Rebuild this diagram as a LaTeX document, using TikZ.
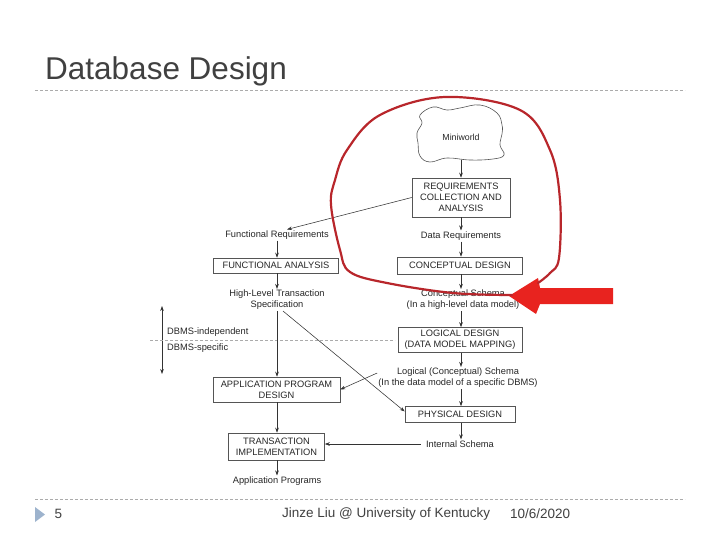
\documentclass[tikz,border=0pt]{standalone}
\usepackage{fontspec}
\setmainfont{Liberation Sans}
\usetikzlibrary{arrows.meta}
\definecolor{ttl}{HTML}{404040}
\definecolor{lin}{HTML}{333333}
\definecolor{boxc}{HTML}{555555}
\definecolor{loopred}{HTML}{B8262B}
\definecolor{arrred}{HTML}{E8231F}
\definecolor{tri}{HTML}{9DB3CD}
\definecolor{dashc}{HTML}{ABABAB}
\begin{document}
\begin{tikzpicture}[x=1pt,y=-1pt,
  txt/.style={font=\fontsize{9.3}{11}\selectfont, text=black!85, inner sep=1pt, align=center},
  dbox/.style={txt, draw=boxc, line width=0.6pt, inner sep=2pt},
  arr/.style={draw=lin, line width=0.55pt, -{Stealth[length=5pt,width=3.6pt]}},
  rule/.style={draw=dashc, line width=0.6pt, dash pattern=on 3pt off 2pt},
  foot/.style={font=\fontsize{13.5}{16}\selectfont, text=ttl, inner sep=0pt, anchor=west}
]
\useasboundingbox (0,0) rectangle (720,540);

% header and footer
\node[anchor=base west, inner sep=0pt, font=\fontsize{31.5}{36}\selectfont, text=ttl] (title) at (45,80) {Database Design};
\coordinate (h1) at (35,90); \coordinate (h2) at (685,90);
\draw[rule] (h1) -- (h2);
\coordinate (f1) at (35,499.5); \coordinate (f2) at (685,499.5);
\draw[rule] (f1) -- (f2);
\fill[tri] (35,507) -- (45,514.5) -- (35,522) -- cycle;
\node[foot] (pg) at (54.5,514) {5};
\node[foot] (who) at (282,514) {Jinze Liu @ University of Kentucky};
\node[foot] (date) at (510,514) {10/6/2020};

% cloud
\draw[boxc, line width=0.6pt] plot[smooth cycle, tension=0.7] coordinates {
 (420,115) (433,107) (447,110) (460,108) (480,105) (497,113) (502,125) (502,134)
 (500,145) (504,155) (493,159) (470,160) (447,158) (430,162) (420,156) (418,143)
 (417,133) (422,123)};
\node[txt, font=\fontsize{8.8}{10}\selectfont] (mini) at (461,137) {Miniworld};
\coordinate (minibot) at (461,160);

% right column
\node[dbox, minimum width=98pt, minimum height=39pt] (req) at (461,197.5) {REQUIREMENTS\\COLLECTION AND\\ANALYSIS};
\node[txt] (datareq) at (461,236) {Data Requirements};
\node[dbox, minimum width=125pt, minimum height=17pt] (concep) at (460,265.5) {CONCEPTUAL DESIGN};
\node[txt] (cschema) at (463,300) {Conceptual Schema\\(In a high-level data model)};
\node[dbox, minimum width=124pt, minimum height=25pt] (logical) at (460,340) {LOGICAL DESIGN\\(DATA MODEL MAPPING)};
\node[txt] (lschema) at (458,378) {Logical (Conceptual) Schema\\(In the data model of a specific DBMS)};
\node[dbox, minimum width=110pt, minimum height=16pt] (phys) at (460,414.5) {PHYSICAL DESIGN};
\node[txt] (internal) at (460,444) {Internal Schema};

% left column
\node[txt] (funcreq) at (277,235) {Functional Requirements};
\node[dbox, minimum width=125pt, minimum height=15pt] (funcan) at (276,265.5) {FUNCTIONAL ANALYSIS};
\node[txt] (hlspec) at (277,300) {High-Level Transaction\\Specification};
\node[dbox, minimum width=127pt, minimum height=25pt] (appdes) at (276.5,389.5) {APPLICATION PROGRAM\\DESIGN};
\node[dbox, minimum width=96pt, minimum height=27pt] (trans) at (276.5,446.5) {TRANSACTION\\IMPLEMENTATION};
\node[txt] (appprog) at (277,481) {Application Programs};

% DBMS split
\node[txt, anchor=west] (dind) at (166,332) {DBMS-independent};
\node[txt, anchor=west] (dspec) at (166,348) {DBMS-specific};
\coordinate (dtop) at (162,306); \coordinate (dbot) at (162,374);
\draw[draw=lin, line width=0.55pt, {Stealth[length=5pt,width=3.6pt]}-{Stealth[length=5pt,width=3.6pt]}] (dtop) -- (dbot);
\coordinate (dl1) at (150,340); \coordinate (dl2) at (395,340);
\draw[rule] (dl1) -- (dl2);

% connectors right
\draw[arr] (minibot) -- (req.north -| minibot);
\draw[arr] (req.south -| minibot) -- (datareq.north -| minibot);
\draw[arr] (datareq.south -| minibot) -- (concep.north -| minibot);
\draw[arr] (concep.south -| minibot) -- (cschema.north -| minibot);
\draw[arr] (cschema.south -| minibot) -- (logical.north -| minibot);
\draw[arr] (logical.south -| minibot) -- (lschema.north -| minibot);
\draw[arr] (lschema.south -| minibot) -- (phys.north -| minibot);
\draw[arr] (phys.south -| minibot) -- (internal.north -| minibot);
\draw[arr] ([xshift=-4pt]internal.west) -- (internal.west -| trans.east);

% connectors left
\draw[arr] (req.west) -- ([xshift=10pt]funcreq.north);
\draw[arr] (funcreq.south) -- (funcan.north -| funcreq.south);
\draw[arr] (funcan.south -| funcreq.south) -- (hlspec.north);
\draw[arr] (hlspec.south) -- (appdes.north -| hlspec.south);
\draw[arr] ([xshift=6pt]hlspec.south) -- ([yshift=3pt]phys.west);
\draw[arr] ([yshift=5pt]lschema.west) -- (appdes.east);
\draw[arr] (appdes.south -| hlspec.south) -- (trans.north -| hlspec.south);
\draw[arr] (trans.south -| hlspec.south) -- (appprog.north);

% red annotation
\fill[arrred] (613,288) -- (540,288) -- (538,278) -- (509,296) -- (536,314) -- (540,304) -- (613,304) -- cycle;
\draw[loopred, line width=2.2pt, line cap=round] plot[smooth, tension=0.6] coordinates {
 (512,295) (453,293) (387,283) (350,272) (340,250) (331,205) (335,180) (347,150)
 (380,115) (445,97) (520,110) (550,150) (560,200) (559,258) (550,273) (538,283)};
\end{tikzpicture}
\end{document}
